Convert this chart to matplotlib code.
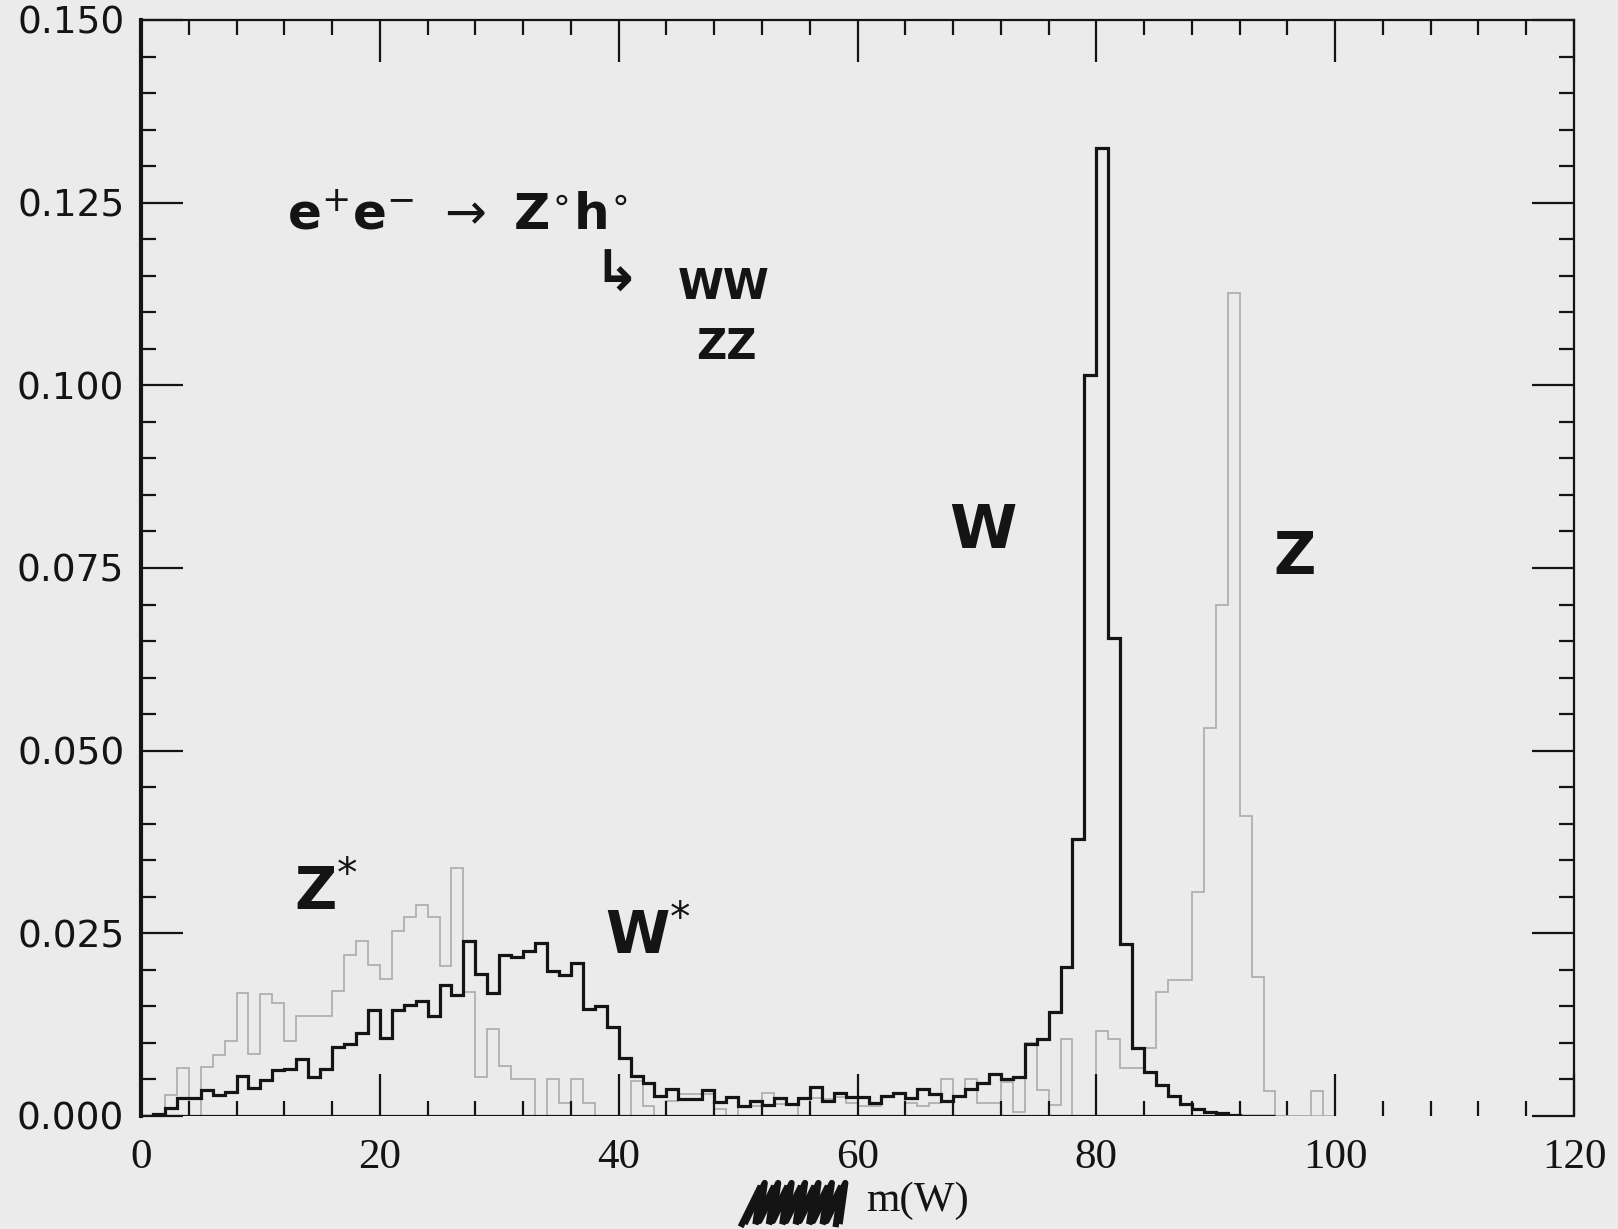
import matplotlib.pyplot as plt
import numpy as np
from matplotlib.ticker import MultipleLocator, FormatStrFormatter
from matplotlib.lines import Line2D

# m(W) distributions, 1 GeV bins starting at 0 GeV, contents in units of 1e-3
w_hist = [0.0, 0.3, 1.1, 2.4, 2.4, 3.6, 2.9, 3.3, 5.5, 3.9,
          4.9, 6.3, 6.4, 7.8, 5.3, 6.5, 9.5, 9.8, 11.4, 14.5,
          10.7, 14.5, 15.2, 15.8, 13.7, 17.9, 16.5, 24.0, 19.5, 16.8,
          22.1, 21.8, 22.6, 23.7, 19.9, 19.3, 21.0, 14.6, 15.1, 12.2,
          8.0, 5.5, 4.5, 2.7, 3.7, 2.3, 2.3, 3.5, 1.9, 2.6,
          1.4, 2.1, 1.5, 2.4, 1.7, 2.5, 4.0, 2.1, 3.1, 2.6,
          2.6, 1.8, 2.8, 3.1, 2.5, 3.7, 3.0, 2.1, 2.8, 3.7,
          4.5, 5.8, 5.0, 5.3, 9.8, 10.5, 14.3, 20.4, 37.9, 101.4,
          132.5, 65.4, 23.5, 9.3, 6.0, 4.2, 2.8, 1.6, 1.0, 0.6,
          0.4, 0.2, 0.0, 0.0, 0.0]

z_hist = [0.0, 0.0, 2.9, 6.6, 0.0, 6.7, 8.4, 10.2, 16.9, 8.5,
          16.7, 15.4, 10.2, 13.7, 13.7, 13.7, 17.1, 22.1, 24.0, 20.6,
          18.8, 25.3, 27.2, 28.9, 27.2, 20.5, 34.0, 17.0, 5.3, 11.9,
          6.8, 5.1, 5.1, 0.0, 5.1, 1.8, 5.1, 1.8, 0.0, 0.0,
          0.0, 4.8, 1.4, 0.0, 2.0, 3.0, 3.0, 3.0, 1.0, 0.0,
          1.4, 1.4, 3.2, 1.6, 1.6, 0.0, 2.5, 2.3, 2.6, 1.8,
          1.4, 1.4, 2.6, 3.2, 1.8, 1.4, 1.8, 5.1, 2.6, 5.0,
          1.8, 1.8, 4.6, 0.5, 10.0, 3.6, 1.5, 10.5, 0.0, 0.0,
          11.7, 10.5, 6.6, 6.6, 9.3, 17.0, 18.6, 18.6, 30.7, 53.1,
          70.0, 112.7, 41.0, 19.0, 3.4, 0.0, 0.0, 0.0, 3.4, 0.0]

w_vals = np.array(w_hist) * 1e-3
z_vals = np.array(z_hist) * 1e-3
w_edges = np.arange(len(w_vals) + 1)
z_edges = np.arange(len(z_vals) + 1)

paper = '#ebebeb'
ink = '#141414'
faint = '#ababab'

fig = plt.figure(figsize=(16.18, 12.29), dpi=100, facecolor=paper)
ax = fig.add_axes([141 / 1618, 1 - 1116 / 1229, 1433 / 1618, 1096 / 1229])
ax.set_facecolor(paper)

ax.stairs(z_vals, z_edges, color=faint, lw=1.2)
ax.hlines(0, 1, len(z_vals) - 1, color=faint, lw=1.2)
ax.stairs(w_vals, w_edges, color=ink, lw=2.3)
ax.hlines(0, 0, len(w_vals), color=ink, lw=2.3)

ax.set_xlim(0, 120)
ax.set_ylim(0, 0.150)

ax.spines['bottom'].set_visible(False)
ax.spines['left'].set_linewidth(3.0)
for s in ('top', 'right'):
    ax.spines[s].set_linewidth(1.6)
for s in ax.spines.values():
    s.set_color(ink)

ax.xaxis.set_major_locator(MultipleLocator(20))
ax.xaxis.set_minor_locator(MultipleLocator(4))
ax.yaxis.set_major_locator(MultipleLocator(0.025))
ax.yaxis.set_minor_locator(MultipleLocator(0.005))
ax.yaxis.set_major_formatter(FormatStrFormatter('%.3f'))

ax.tick_params(which='both', direction='in', top=True, right=True,
               color=ink, width=1.6)
ax.tick_params(which='major', length=30)
ax.tick_params(which='minor', length=11)
ax.tick_params(axis='x', which='major', pad=16)
ax.tick_params(axis='y', which='major', pad=12)

for lab in ax.get_xticklabels():
    lab.set_fontfamily('Liberation Serif')
    lab.set_fontsize(31)
    lab.set_color(ink)
for lab in ax.get_yticklabels():
    lab.set_fontfamily('DejaVu Sans')
    lab.set_fontsize(27)
    lab.set_color(ink)

ax.set_xlabel('m(W)', fontfamily='Liberation Serif', fontsize=31, color=ink)
ax.xaxis.set_label_coords(0.542, -0.06)

# hand-written annotations
hand = dict(color=ink, fontweight='bold', ha='center', va='center',
            fontfamily='DejaVu Sans')
ax.text(26.5, 0.1231, r'e$^{+}$e$^{-}$ $\rightarrow$ Z$^{\circ}$h$^{\circ}$',
        fontsize=36, **hand)
ax.text(39.8, 0.1150, '\u21b3', fontsize=40, **hand)
ax.text(48.8, 0.1134, 'WW', fontsize=30, **hand)
ax.text(49.0, 0.1052, 'ZZ', fontsize=30, **hand)
ax.text(70.5, 0.0800, 'W', fontsize=44, **hand)
ax.text(96.6, 0.0765, 'Z', fontsize=42, **hand)
ax.text(15.5, 0.0305, r'Z$^{*}$', fontsize=42, **hand)
ax.text(42.5, 0.0245, r'W$^{*}$', fontsize=42, **hand)

# crossed-out word in front of the axis title
sx = np.linspace(748, 842, 15)
sy = np.where(np.arange(15) % 2 == 0, 1224, 1186)
sx = sx + np.where(np.arange(15) % 2 == 0, -6, 6)
fig.add_artist(Line2D(sx / 1618, 1 - sy / 1229, transform=fig.transFigure,
                      color=ink, lw=4.5, solid_joinstyle='miter'))
fig.add_artist(Line2D((sx[::-1] + 4) / 1618, 1 - (sy[::-1] - 3) / 1229,
                      transform=fig.transFigure, color=ink, lw=4.5))

fig.savefig('out.png', dpi=100, facecolor=paper)
